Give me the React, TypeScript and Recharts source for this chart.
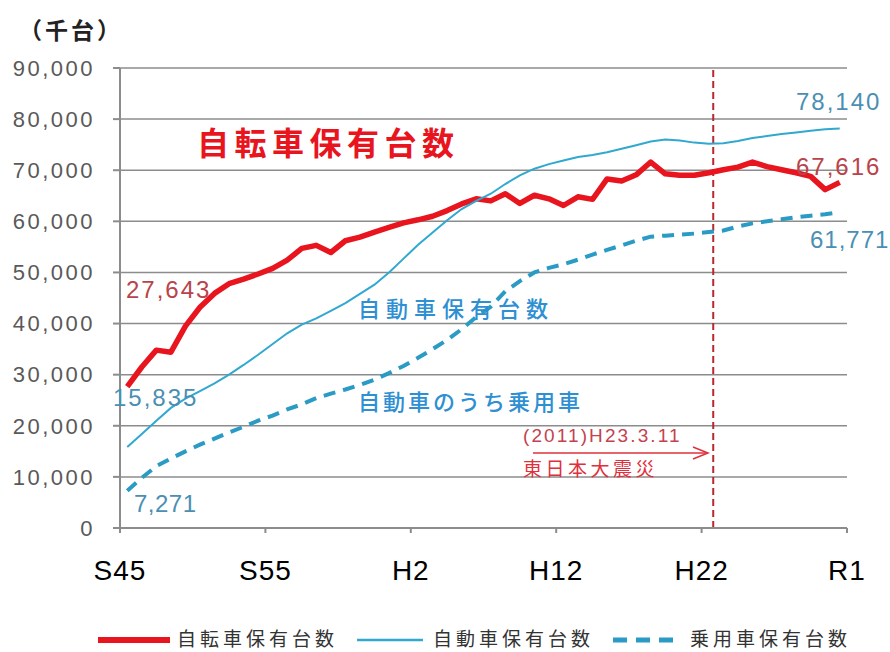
import { CartesianGrid, Line, LineChart, ReferenceLine, XAxis, YAxis } from "recharts";

// 保有台数（千台）, 1970 (S45) – 2019 (R1)
const years = [
  1970, 1971, 1972, 1973, 1974, 1975, 1976, 1977, 1978, 1979,
  1980, 1981, 1982, 1983, 1984, 1985, 1986, 1987, 1988, 1989,
  1990, 1991, 1992, 1993, 1994, 1995, 1996, 1997, 1998, 1999,
  2000, 2001, 2002, 2003, 2004, 2005, 2006, 2007, 2008, 2009,
  2010, 2011, 2012, 2013, 2014, 2015, 2016, 2017, 2018, 2019,
];

const bicycles = [
  27643, 31500, 34800, 34400, 39500, 43200, 45900, 47800, 48700, 49700,
  50800, 52400, 54700, 55300, 53900, 56200, 56900, 57900, 58800, 59700,
  60300, 61000, 62100, 63400, 64400, 64000, 65400, 63500, 65100, 64400,
  63100, 64800, 64300, 68300, 67900, 69100, 71600, 69300, 69000, 69000,
  69500, 70100, 70600, 71600, 70700, 70100, 69500, 68800, 66200, 67616,
];

const cars = [
  15835, 18400, 21000, 23500, 25300, 26800, 28300, 30000, 31900, 33900,
  36000, 38100, 39800, 41000, 42500, 44000, 45800, 47600, 50000, 52700,
  55400, 57800, 60200, 62400, 64000, 65400, 67300, 69000, 70300, 71200,
  71900, 72600, 73000, 73500, 74200, 74900, 75600, 76000, 75800, 75400,
  75200, 75300, 75700, 76300, 76700, 77100, 77400, 77700, 78000, 78140,
];

const passengerCars = [
  7271, 9800, 12100, 13600, 15000, 16300, 17500, 18700, 19800, 21000,
  22000, 23200, 24200, 25400, 26300, 27100, 28000, 29000, 30300, 31700,
  33300, 35000, 36800, 38900, 41300, 43300, 46300, 48300, 50000, 50900,
  51600, 52500, 53500, 54400, 55300, 56200, 57000, 57200, 57400, 57600,
  57900, 58200, 59000, 59600, 60000, 60400, 60800, 61100, 61400, 61771,
];

const xTicks = [1969.5, 1979.5, 1989.5, 1999.5, 2009.5, 2019.5];
const xTickLabels = ["S45", "S55", "H2", "H12", "H22", "R1"];
const yTicks = [0, 10000, 20000, 30000, 40000, 50000, 60000, 70000, 80000, 90000];
const quakeYear = 2010.3;

const rows = years.map((year, i) => ({
  year,
  bicycles: bicycles[i],
  cars: cars[i],
  passengerCars: passengerCars[i],
}));

const RED = "#e8141e";
const BLUE = "#31a8cf";
const TEAL = "#2a9bc4";
const GRID = "#8c8c8c";
const LATIN = "'Liberation Sans', Arial, sans-serif";
const CJK = "'Noto Sans CJK JP', sans-serif";

function Note({
  children,
  left,
  mid,
  size,
  color,
  font = LATIN,
  spacing = 0,
  weight = 400,
}: {
  children: React.ReactNode;
  left: number;
  mid: number;
  size: number;
  color: string;
  font?: string;
  spacing?: number;
  weight?: number;
}) {
  return (
    <div
      style={{
        position: "absolute",
        left,
        top: mid - size * 0.5,
        fontSize: size,
        lineHeight: 1,
        color,
        fontFamily: font,
        letterSpacing: spacing,
        fontWeight: weight,
        whiteSpace: "nowrap",
      }}
    >
      {children}
    </div>
  );
}

function LegendKey() {
  const text = {
    position: "absolute" as const,
    top: 628,
    fontFamily: CJK,
    fontSize: 19,
    lineHeight: 1,
    letterSpacing: 4,
    color: "#333",
    whiteSpace: "nowrap" as const,
  };
  return (
    <>
      <svg style={{ position: "absolute", left: 0, top: 0 }} width={890} height={652}>
        <line x1={98} y1={640} x2={170} y2={640} stroke={RED} strokeWidth={6} />
        <line x1={357} y1={640} x2={423} y2={640} stroke={BLUE} strokeWidth={2.5} />
        <line x1={613} y1={640} x2={680} y2={640} stroke={TEAL} strokeWidth={5} strokeDasharray="14 9" />
      </svg>
      <div style={{ ...text, left: 177 }}>自転車保有台数</div>
      <div style={{ ...text, left: 433 }}>自動車保有台数</div>
      <div style={{ ...text, left: 690 }}>乗用車保有台数</div>
    </>
  );
}

export default function App() {
  return (
    <div style={{ position: "absolute", left: 0, top: 0, width: 890, height: 652, background: "#fff", overflow: "hidden" }}>
      <LineChart width={890} height={652} data={rows} margin={{ top: 68, right: 43, bottom: 64, left: 10 }}>
        <CartesianGrid vertical={false} stroke={GRID} strokeWidth={1.5} />
        <XAxis
          dataKey="year"
          type="number"
          domain={[1969.5, 2019.5]}
          ticks={xTicks}
          interval={0}
          tickFormatter={(v: number) => xTickLabels[xTicks.indexOf(v)]}
          height={60}
          tickSize={5}
          tickMargin={27}
          axisLine={{ stroke: GRID, strokeWidth: 2 }}
          tickLine={{ stroke: GRID, strokeWidth: 2 }}
          tick={{ fill: "#000", fontSize: 28, fontFamily: LATIN, letterSpacing: 1 }}
        />
        <YAxis
          domain={[0, 90000]}
          ticks={yTicks}
          interval={0}
          width={110}
          tickSize={7}
          tickMargin={18}
          tickFormatter={(v: number) => v.toLocaleString("en-US")}
          axisLine={{ stroke: GRID, strokeWidth: 2 }}
          tickLine={{ stroke: GRID, strokeWidth: 2 }}
          tick={{ fill: "#595959", fontSize: 22, fontFamily: LATIN, letterSpacing: 2.5 }}
        />
        <ReferenceLine x={quakeYear} stroke="#b8282e" strokeWidth={2} strokeDasharray="7 4" />
        <Line
          dataKey="bicycles"
          stroke={RED}
          strokeWidth={5.5}
          dot={false}
          strokeLinejoin="round"
          isAnimationActive={false}
        />
        <Line dataKey="cars" stroke={BLUE} strokeWidth={2} dot={false} isAnimationActive={false} />
        <Line
          dataKey="passengerCars"
          stroke={TEAL}
          strokeWidth={4}
          strokeDasharray="12 8"
          dot={false}
          isAnimationActive={false}
        />
      </LineChart>

      <Note left={19} mid={29} size={23} color="#222" font={CJK} spacing={3} weight={700}>（千台）</Note>
      <Note left={197} mid={141} size={32} color={RED} font={CJK} spacing={5.5} weight={700}>
        自転車保有台数
      </Note>
      <Note left={126} mid={290} size={24} color="#b9434a" spacing={2}>27,643</Note>
      <Note left={113} mid={398} size={24} color="#4a8fb3" spacing={2}>15,835</Note>
      <Note left={134} mid={504} size={24} color="#4a8fb3" spacing={0.5}>7,271</Note>
      <Note left={796} mid={102} size={24} color="#4a8fb3" spacing={2}>78,140</Note>
      <Note left={796} mid={167} size={24} color="#b9434a" spacing={2}>67,616</Note>
      <Note left={810} mid={240} size={24} color="#4a8fb3" spacing={1}>61,771</Note>
      <Note left={358} mid={307} size={22} color="#2e8fd2" font={CJK} spacing={6} weight={500}>
        自動車保有台数
      </Note>
      <Note left={358} mid={400} size={22} color="#2e8fd2" font={CJK} spacing={3} weight={500}>
        自動車のうち乗用車
      </Note>
      <Note left={523} mid={435} size={19} color="#c4424f" spacing={2.1}>(2011)H23.3.11</Note>
      <Note left={523} mid={467} size={19} color="#e0303c" font={CJK} spacing={3.5}>東日本大震災</Note>
      <svg style={{ position: "absolute", left: 0, top: 0 }} width={890} height={652}>
        <line x1={533} y1={453} x2={708} y2={453} stroke="#e0303c" strokeWidth={1.5} />
        <polyline points="693,447 708,453 693,459" fill="none" stroke="#e0303c" strokeWidth={1.5} />
      </svg>

      <LegendKey />
    </div>
  );
}
